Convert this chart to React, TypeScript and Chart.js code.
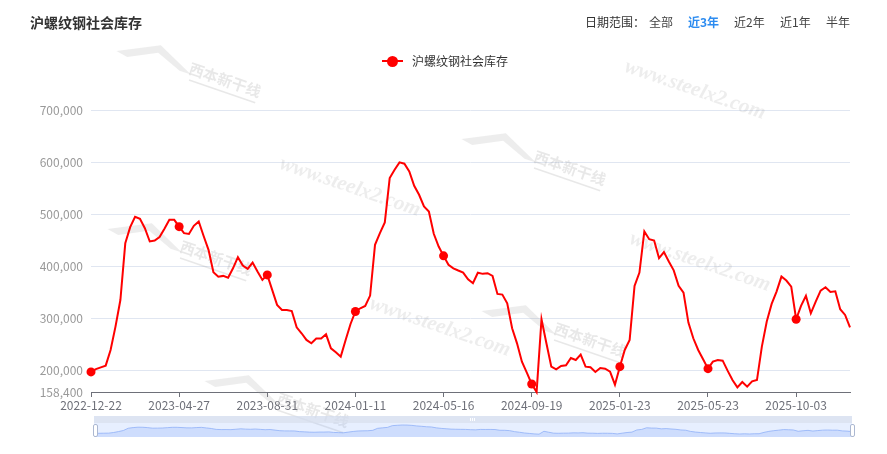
import React, { useEffect, useRef } from 'react';
import { Chart, registerables } from 'chart.js';

Chart.register(...registerables);

// ---------- data ----------
const dates: string[] = [
  '2022-12-22', '2022-12-29', '2023-01-05', '2023-01-12', '2023-01-19', '2023-01-26', '2023-02-02', '2023-02-09', '2023-02-16', '2023-02-23',
  '2023-03-02', '2023-03-09', '2023-03-16', '2023-03-23', '2023-03-30', '2023-04-06', '2023-04-13', '2023-04-20', '2023-04-27', '2023-05-04',
  '2023-05-11', '2023-05-18', '2023-05-25', '2023-06-01', '2023-06-08', '2023-06-15', '2023-06-21', '2023-06-29', '2023-07-06', '2023-07-13',
  '2023-07-20', '2023-07-27', '2023-08-03', '2023-08-10', '2023-08-17', '2023-08-24', '2023-08-31', '2023-09-07', '2023-09-14', '2023-09-21',
  '2023-09-28', '2023-10-12', '2023-10-19', '2023-10-26', '2023-11-02', '2023-11-09', '2023-11-16', '2023-11-23', '2023-11-30', '2023-12-07',
  '2023-12-14', '2023-12-21', '2023-12-28', '2024-01-04', '2024-01-11', '2024-01-18', '2024-01-25', '2024-02-01', '2024-02-08', '2024-02-15',
  '2024-02-22', '2024-02-29', '2024-03-07', '2024-03-14', '2024-03-21', '2024-03-28', '2024-04-03', '2024-04-11', '2024-04-18', '2024-04-25',
  '2024-04-30', '2024-05-09', '2024-05-16', '2024-05-23', '2024-05-30', '2024-06-06', '2024-06-13', '2024-06-20', '2024-06-27', '2024-07-04',
  '2024-07-11', '2024-07-18', '2024-07-25', '2024-08-01', '2024-08-08', '2024-08-15', '2024-08-22', '2024-08-29', '2024-09-05', '2024-09-12',
  '2024-09-19', '2024-09-26', '2024-09-30', '2024-10-10', '2024-10-17', '2024-10-24', '2024-10-31', '2024-11-07', '2024-11-14', '2024-11-21',
  '2024-11-28', '2024-12-05', '2024-12-12', '2024-12-19', '2024-12-26', '2025-01-02', '2025-01-09', '2025-01-16', '2025-01-23', '2025-01-27',
  '2025-02-06', '2025-02-13', '2025-02-20', '2025-02-27', '2025-03-06', '2025-03-13', '2025-03-20', '2025-03-27', '2025-04-03', '2025-04-10',
  '2025-04-17', '2025-04-24', '2025-04-30', '2025-05-08', '2025-05-15', '2025-05-19', '2025-05-23', '2025-05-30', '2025-06-06', '2025-06-13',
  '2025-06-20', '2025-06-27', '2025-07-04', '2025-07-11', '2025-07-18', '2025-07-25', '2025-08-01', '2025-08-08', '2025-08-15', '2025-08-22',
  '2025-08-29', '2025-09-05', '2025-09-12', '2025-09-19', '2025-10-03', '2025-10-16', '2025-10-23', '2025-10-30', '2025-11-06', '2025-11-13',
  '2025-11-20', '2025-11-27', '2025-12-04', '2025-12-11', '2025-12-18', '2025-12-25',
];

const stock: number[] = [
  197000, 202500, 205800, 209000, 239000, 284000, 335000, 444000, 475000, 495000,
  491000, 473000, 447500, 449400, 456000, 472000, 489000, 489000, 476000, 463500,
  462000, 477600, 486000, 458000, 431400, 388500, 380000, 381400, 378000, 396000,
  417300, 401300, 395000, 407000, 389800, 373700, 383300, 354500, 325700, 316000,
  316000, 314000, 282700, 271200, 258400, 252000, 261000, 261000, 269200, 242300,
  234600, 226300, 258400, 289000, 313000, 319200, 323700, 343600, 441000, 463500,
  484000, 569200, 585300, 599400, 596800, 582000, 554500, 537200, 514700, 505100,
  462200, 437800, 419900, 402600, 396000, 391700, 387800, 375000, 367300, 387500,
  385300, 386500, 381400, 346800, 345500, 328800, 280800, 251900, 216700, 195500,
  173800, 158400, 298100, 251900, 207100, 202000, 208400, 209600, 223700, 219900,
  230100, 207100, 205800, 196800, 204500, 203200, 197400, 172400, 207100, 239100,
  258400, 362200, 387800, 466700, 451900, 449400, 415400, 427000, 409000, 392000,
  362200, 349400, 291700, 261600, 239100, 221200, 203200, 216700, 219900, 218600,
  199400, 181400, 167300, 177600, 168600, 178900, 181400, 245500, 293600, 327600,
  351300, 380100, 372400, 360900, 298100, 323700, 343000, 309600, 332100, 353200,
  359600, 350600, 351900, 317300, 306400, 282700,
];

const yTickValues: number[] = [158400, 200000, 300000, 400000, 500000, 600000, 700000];
const labelStep = 18;
const seriesName = '沪螺纹钢社会库存';
const rangeOptions: string[] = ['全部', '近3年', '近2年', '近1年', '半年'];
const activeRange = '近3年';

const FONT = '"Noto Sans CJK SC", "Noto Sans", sans-serif';

// ---------- watermark ----------
const siteMarks: [number, number][] = [[350, 187], [695, 90], [440, 327], [700, 262]];
const logoMarks: [number, number][] = [[225, 80], [570, 168], [216, 258], [590, 340], [313, 410]];

function drawSite(ctx: CanvasRenderingContext2D, x: number, y: number) {
  ctx.save();
  ctx.translate(x, y);
  ctx.rotate((19 * Math.PI) / 180);
  ctx.font = 'italic bold 21px "Liberation Serif", serif';
  ctx.fillStyle = 'rgba(140,140,140,0.16)';
  ctx.textAlign = 'center';
  ctx.textBaseline = 'middle';
  ctx.fillText('www.steelx2.com', 0, 0);
  ctx.restore();
}

function drawLogo(ctx: CanvasRenderingContext2D, x: number, y: number) {
  ctx.save();
  ctx.translate(x, y);
  ctx.rotate((19 * Math.PI) / 180);
  ctx.fillStyle = 'rgba(150,150,150,0.17)';
  ctx.beginPath();
  ctx.moveTo(-112, 8);
  ctx.lineTo(-72, -12);
  ctx.lineTo(-34, 6);
  ctx.lineTo(-46, 6);
  ctx.lineTo(-72, -4);
  ctx.lineTo(-100, 10);
  ctx.closePath();
  ctx.fill();
  ctx.font = 'bold 15px "Noto Sans CJK SC", sans-serif';
  ctx.fillStyle = 'rgba(140,140,140,0.2)';
  ctx.textAlign = 'center';
  ctx.textBaseline = 'middle';
  ctx.fillText('西本新干线', 0, 0);
  ctx.fillRect(-34, 11, 70, 1.5);
  ctx.restore();
}

const watermarkPlugin = {
  id: 'watermark',
  beforeDatasetsDraw(chart: any) {
    const ctx = chart.ctx as CanvasRenderingContext2D;
    siteMarks.forEach(([x, y]) => drawSite(ctx, x, y));
    logoMarks.forEach(([x, y]) => drawLogo(ctx, x, y));
  },
};

export default function App() {
  const mainRef = useRef<HTMLCanvasElement | null>(null);
  const miniRef = useRef<HTMLCanvasElement | null>(null);

  useEffect(() => {
    if (!mainRef.current || !miniRef.current) return;
    const main = new Chart(mainRef.current, {
      type: 'line',
      data: {
        labels: dates,
        datasets: [
          {
            label: seriesName,
            data: stock,
            borderColor: '#ff0000',
            backgroundColor: '#ff0000',
            borderWidth: 2,
            tension: 0,
            pointRadius: (c: any) => (c.dataIndex % labelStep === 0 ? 4.5 : 0),
            pointHoverRadius: (c: any) => (c.dataIndex % labelStep === 0 ? 4.5 : 0),
            pointBorderWidth: 0,
            pointBackgroundColor: '#ff0000',
            clip: 6,
          } as any,
        ],
      },
      options: {
        responsive: false,
        animation: false,
        events: [],
        layout: { padding: { left: 0, right: 37, top: 110, bottom: 0 } },
        plugins: {
          legend: { display: false },
          tooltip: { enabled: false },
          title: { display: false },
        },
        scales: {
          x: {
            type: 'category',
            offset: false,
            afterFit: (s: any) => {
              s.height = 62;
            },
            border: { display: true, color: '#6e7079', width: 1 },
            grid: {
              drawOnChartArea: false,
              drawTicks: true,
              tickLength: 5,
              color: '#6e7079',
            },
            ticks: {
              autoSkip: false,
              maxRotation: 0,
              padding: 1,
              color: '#6e7079',
              font: { family: FONT, size: 12 },
              callback: (_v: any, i: number) => (i % labelStep === 0 ? dates[i] : null),
            },
          },
          y: {
            min: yTickValues[0],
            max: yTickValues[yTickValues.length - 1],
            afterFit: (s: any) => {
              s.width = 91;
            },
            afterBuildTicks: (s: any) => {
              s.ticks = yTickValues.map((v) => ({ value: v }));
            },
            border: { display: false },
            grid: { color: '#e0e6f1', drawTicks: false, lineWidth: 1 },
            ticks: {
              padding: 8,
              color: '#999999',
              font: { family: FONT, size: 12 },
              callback: (v: any) => Number(v).toLocaleString('en-US'),
            },
          },
        },
      },
      plugins: [watermarkPlugin],
    } as any);

    const mini = new Chart(miniRef.current, {
      type: 'line',
      data: {
        labels: dates,
        datasets: [
          {
            data: stock,
            borderColor: '#8fb0f7',
            borderWidth: 0.8,
            pointRadius: 0,
            tension: 0,
            fill: 'start',
            backgroundColor: 'rgba(143,176,247,0.28)',
          } as any,
        ],
      },
      options: {
        responsive: false,
        animation: false,
        events: [],
        layout: { padding: 0 },
        plugins: { legend: { display: false }, tooltip: { enabled: false } },
        scales: {
          x: { display: false, offset: false },
          y: { display: false, min: 24000, max: 696000 },
        },
      },
    } as any);

    return () => {
      main.destroy();
      mini.destroy();
    };
  }, []);

  const rangeLeft = [649, 688, 734, 780, 826];

  return (
    <div
      style={{
        position: 'fixed',
        left: 0,
        top: 0,
        width: 887,
        height: 454,
        background: '#ffffff',
        fontFamily: FONT,
        overflow: 'hidden',
      }}
    >
      <canvas ref={mainRef} width={887} height={454} style={{ position: 'absolute', left: 0, top: 0 }} />

      <div
        style={{
          position: 'absolute',
          left: 30,
          top: 13,
          fontSize: 14,
          lineHeight: '18px',
          fontWeight: 'bold',
          color: '#333',
          whiteSpace: 'nowrap',
        }}
      >
        {seriesName}
      </div>

      <div
        style={{ position: 'absolute', left: 585, top: 14, fontSize: 12, lineHeight: '16px', color: '#333', whiteSpace: 'nowrap' }}
      >
        日期范围：
      </div>
      {rangeOptions.map((r, i) => (
        <div
          key={r}
          style={{
            position: 'absolute',
            left: rangeLeft[i],
            top: 14,
            fontSize: 12,
            lineHeight: '16px',
            whiteSpace: 'nowrap',
            color: r === activeRange ? '#2d8cf0' : '#444',
            fontWeight: r === activeRange ? 'bold' : 'normal',
          }}
        >
          {r}
        </div>
      ))}

      {/* legend */}
      <div style={{ position: 'absolute', left: 382, top: 60, width: 21, height: 2, background: '#ff0000' }} />
      <div
        style={{ position: 'absolute', left: 387, top: 56, width: 11, height: 11, borderRadius: '50%', background: '#ff0000' }}
      />
      <div
        style={{ position: 'absolute', left: 412, top: 53, fontSize: 12, lineHeight: '16px', color: '#333', whiteSpace: 'nowrap' }}
      >
        {seriesName}
      </div>

      {/* data zoom slider */}
      <div style={{ position: 'absolute', left: 94, top: 416, width: 758, height: 7, background: 'rgba(210,219,238,0.75)' }}>
        <div style={{ position: 'absolute', left: 376, top: 2, width: 1, height: 3, background: '#fff' }} />
        <div style={{ position: 'absolute', left: 378, top: 2, width: 1, height: 3, background: '#fff' }} />
        <div style={{ position: 'absolute', left: 380, top: 2, width: 1, height: 3, background: '#fff' }} />
      </div>
      <div
        style={{
          position: 'absolute',
          left: 94,
          top: 423,
          width: 758,
          height: 14,
          background: 'rgba(135,175,255,0.2)',
        }}
      />
      <canvas ref={miniRef} width={758} height={14} style={{ position: 'absolute', left: 94, top: 423 }} />
      <div
        style={{
          position: 'absolute',
          left: 93,
          top: 424,
          width: 3,
          height: 11,
          background: '#fff',
          border: '1px solid #acb8d1',
          borderRadius: 2,
        }}
      />
      <div
        style={{
          position: 'absolute',
          left: 850,
          top: 424,
          width: 3,
          height: 11,
          background: '#fff',
          border: '1px solid #acb8d1',
          borderRadius: 2,
        }}
      />
    </div>
  );
}
